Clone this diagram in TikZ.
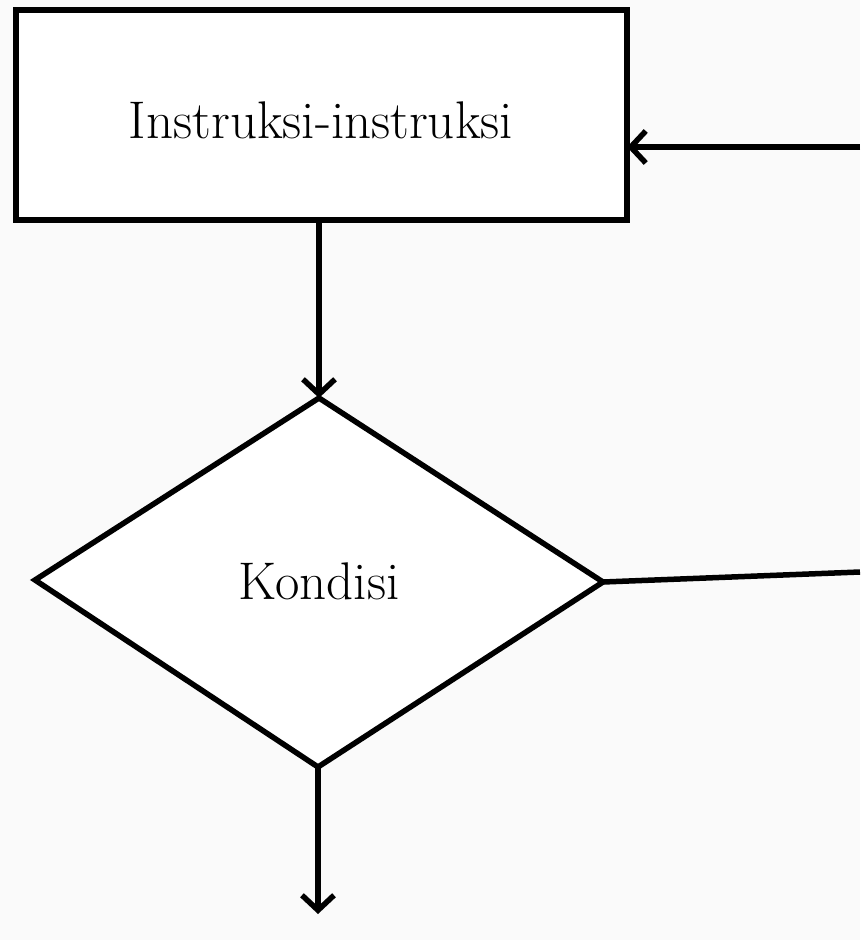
\documentclass[tikz,border=0pt]{standalone}
\usetikzlibrary{arrows.meta}
\begin{document}
\begin{tikzpicture}[x=1pt,y=-1pt,
  shapeline/.style={draw=black,line width=5.5pt,fill=white},
  conn/.style={draw=black,line width=5.5pt},
  tip/.style={-{Straight Barb[length=15pt,width=32pt,line width=5.5pt]}},
  lbl/.style={font=\fontsize{53}{60}\selectfont}]
\fill[black!2] (0,0) rectangle (860,940);
\useasboundingbox (0,0) rectangle (860,940);
% box
\path[shapeline] (16,10) rectangle (627,220);
\node[lbl] (t1) at (321,120) {Instruksi-instruksi};
\coordinate (boxbot) at (319,220);
\coordinate (boxright) at (627,147);
% diamond
\coordinate (dtop) at (319,398);
\coordinate (dleft) at (35,580);
\coordinate (dright) at (603,582);
\coordinate (dbot) at (318,767);
\path[shapeline,line join=miter] (dtop) -- (dright) -- (dbot) -- (dleft) -- cycle;
\node[lbl] (t2) at (319,581) {Kondisi};
% connectors
\coordinate (inR) at (860,147);
\coordinate (outR) at (860,572);
\coordinate (outB) at (318,914);
\draw[conn,tip] (inR) -- (boxright);
\draw[conn,tip] (boxbot) -- (dtop);
\draw[conn] (dright) -- (outR);
\draw[conn,tip] (dbot) -- (outB);
\end{tikzpicture}
\end{document}
